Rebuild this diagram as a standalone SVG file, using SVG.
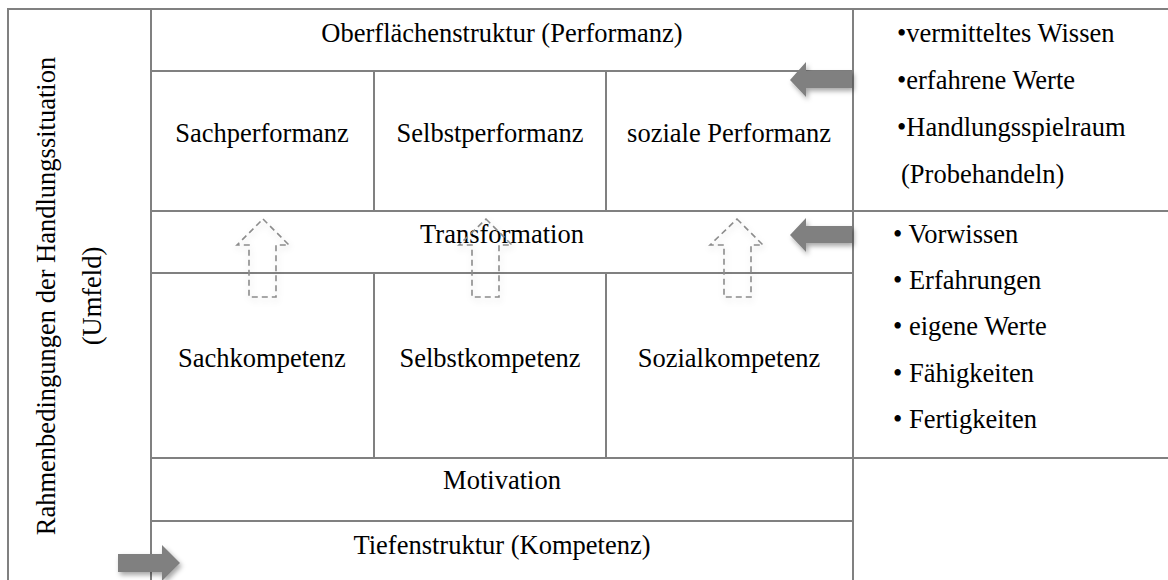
<svg xmlns="http://www.w3.org/2000/svg" width="1168" height="580" viewBox="0 0 1168 580">
<style>
.grid{stroke:#808080;stroke-width:2;fill:none}
.t{font-family:"Liberation Serif","Times New Roman",serif;font-size:26.5px;fill:#000}
.c{text-anchor:middle}
.ga{fill:#808080;filter:url(#sh)}
.da{fill:none;stroke:#8c8c8c;stroke-width:1.6;stroke-dasharray:6 4;filter:url(#sh2)}
</style>
<defs>
<filter id="sh" x="-30%" y="-40%" width="170%" height="200%">
<feDropShadow dx="2" dy="3" stdDeviation="2.5" flood-color="#000" flood-opacity="0.35"/>
</filter>
<filter id="sh2" x="-40%" y="-20%" width="180%" height="150%">
<feDropShadow dx="1" dy="3" stdDeviation="3" flood-color="#000" flood-opacity="0.15"/>
</filter>
</defs>
<g id="table" class="grid">
<line x1="7" y1="9" x2="1168" y2="9"/>
<line x1="8" y1="8" x2="8" y2="580"/>
<line x1="151" y1="8" x2="151" y2="580"/>
<line x1="853" y1="8" x2="853" y2="580"/>
<line x1="151" y1="71" x2="853" y2="71"/>
<line x1="151" y1="211" x2="1168" y2="211"/>
<line x1="151" y1="273" x2="853" y2="273"/>
<line x1="151" y1="458" x2="1168" y2="458"/>
<line x1="151" y1="521" x2="853" y2="521"/>
<line x1="374" y1="71" x2="374" y2="211"/>
<line x1="606" y1="71" x2="606" y2="211"/>
<line x1="374" y1="273" x2="374" y2="458"/>
<line x1="606" y1="273" x2="606" y2="458"/>
</g>
<g id="umfeld">
<text class="t c" transform="translate(55,296) rotate(-90)">Rahmenbedingungen der Handlungssituation</text>
<text class="t c" transform="translate(101,296) rotate(-90)">(Umfeld)</text>
</g>
<g id="oberflaeche"><text class="t c" x="502" y="42">Oberflächenstruktur (Performanz)</text></g>
<g id="sachperformanz"><text class="t c" x="262" y="142">Sachperformanz</text></g>
<g id="selbstperformanz"><text class="t c" x="490" y="142">Selbstperformanz</text></g>
<g id="sozialeperformanz"><text class="t c" x="729" y="142">soziale Performanz</text></g>
<g id="transformation"><text class="t c" x="502" y="243">Transformation</text></g>
<g id="sachkompetenz"><text class="t c" x="262" y="367">Sachkompetenz</text></g>
<g id="selbstkompetenz"><text class="t c" x="490" y="367">Selbstkompetenz</text></g>
<g id="sozialkompetenz"><text class="t c" x="729" y="367">Sozialkompetenz</text></g>
<g id="motivation"><text class="t c" x="502" y="489">Motivation</text></g>
<g id="tiefenstruktur"><text class="t c" x="502" y="554">Tiefenstruktur (Kompetenz)</text></g>
<g id="liste-oben">
<text class="t" x="897" y="42">•vermitteltes Wissen</text>
<text class="t" x="897" y="89">•erfahrene Werte</text>
<text class="t" x="897" y="136">•Handlungsspielraum</text>
<text class="t" x="901" y="183">(Probehandeln)</text>
</g>
<g id="liste-unten">
<text class="t" x="893" y="243">• Vorwissen</text>
<text class="t" x="893" y="289">• Erfahrungen</text>
<text class="t" x="893" y="335">• eigene Werte</text>
<text class="t" x="893" y="382">• Fähigkeiten</text>
<text class="t" x="893" y="428">• Fertigkeiten</text>
</g>
<g id="connectors">
<polygon class="ga" points="790,80 806,62 806,71 852,71 852,88 806,88 806,97"/>
<polygon class="ga" points="790,235 806,218 806,226 852,226 852,243 806,243 806,252"/>
<polygon class="ga" points="180,563 162,545 162,554 118,554 118,572 162,572 162,581"/>
<polygon class="da" points="263,219 289,245 276,245 276,297 249,297 249,245 237,245"/>
<polygon class="da" points="486,219 512,245 499,245 499,297 472,297 472,245 459,245"/>
<polygon class="da" points="737,219 763,245 751,245 751,297 724,297 724,245 710,245"/>
</g>
</svg>
